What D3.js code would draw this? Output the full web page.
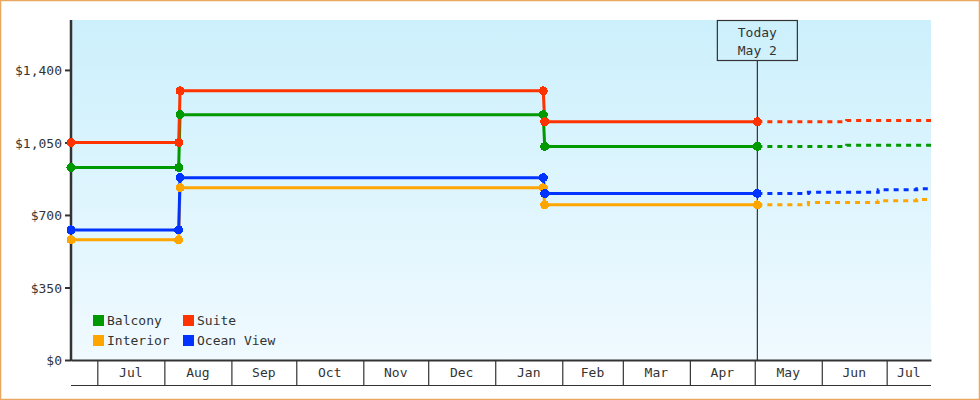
<!DOCTYPE html>
<html>
<head>
<meta charset="utf-8">
<script src="https://cdn.jsdelivr.net/npm/d3@7"></script>
<style>
  body { margin: 0; background: #fff; }
  svg text { font-family: 'DejaVu Sans Mono', monospace; font-size: 13px; fill: #333; }
  .mark { shape-rendering: crispEdges; }
</style>
</head>
<body>
<div class="visHolder"></div>
<script>
var width = 980,
  height = 400,
  margin = { top: 20, right: 49, bottom: 40, left: 71 };

// chart data
var seriesNames = ['Balcony', 'Suite', 'Interior', 'Ocean View'];
var seriesColors = ['#009900', '#ff3300', '#ffa500', '#0033ff'];
var legendOrder = ['Balcony', 'Suite', 'Interior', 'Ocean View'];

var histDates = ['2022-06-18T20', '2022-08-07T15', '2022-08-08T06', '2023-01-23T05', '2023-01-23T21', '2023-05-02T05'];
var balconyHist = [929, 929, 1184, 1184, 1031, 1031];
var suiteHist = [1050, 1050, 1299, 1299, 1150, 1150];
var interiorHist = [580, 580, 831, 831, 749, 749];
var oceanHist = [628, 628, 880, 880, 804, 804];

var balconyFcDates = ['2023-05-02T05', '2023-06-12T12', '2023-07-22T00'];
var balconyFc = [1031, 1037, 1037];
var suiteFcDates = ['2023-05-02T05', '2023-06-12T12', '2023-07-22T00'];
var suiteFc = [1150, 1156, 1156];
var interiorFcDates = ['2023-05-02T05', '2023-05-25T19', '2023-06-27T02', '2023-07-14T22', '2023-07-22T00'];
var interiorFc = [749, 760, 769, 775, 775];
var oceanFcDates = ['2023-05-02T05', '2023-05-25T19', '2023-06-27T02', '2023-07-14T22', '2023-07-22T00'];
var oceanFc = [804, 810, 822, 826, 826];

var todayDate = '2023-05-02T05';
var todayLabel = ['Today', 'May 2'];
var yTicks = [0, 350, 700, 1050, 1400];
var xStart = '2022-06-18T20',
  xEnd = '2023-07-21T12',
  yMax = 1641;

var parse = d3.utcParse('%Y-%m-%dT%H');

var hist = [balconyHist, suiteHist, interiorHist, oceanHist];
var fcDates = [balconyFcDates, suiteFcDates, interiorFcDates, oceanFcDates];
var fcVals = [balconyFc, suiteFc, interiorFc, oceanFc];

var plotW = width - margin.left - margin.right,
  plotH = height - margin.top - margin.bottom;

var svg = d3
  .select('.visHolder')
  .append('svg')
  .attr('width', width)
  .attr('height', height);

var defs = svg.append('defs');
var grad = defs
  .append('linearGradient')
  .attr('id', 'bg')
  .attr('x1', 0)
  .attr('y1', 0)
  .attr('x2', 0)
  .attr('y2', 1);
grad.append('stop').attr('offset', '0%').attr('stop-color', '#ccf0fc');
grad.append('stop').attr('offset', '100%').attr('stop-color', '#f0faff');

defs
  .append('clipPath')
  .attr('id', 'plotClip')
  .append('rect')
  .attr('x', -6)
  .attr('y', 0)
  .attr('width', plotW + 6)
  .attr('height', plotH);

// outer border
svg
  .append('rect')
  .attr('x', 0.5)
  .attr('y', 0.5)
  .attr('width', width - 1)
  .attr('height', height - 1)
  .style('fill', '#fff')
  .style('stroke', '#e8a85f')
  .style('stroke-width', 1.5);

var g = svg.append('g').attr('transform', 'translate(' + margin.left + ',' + margin.top + ')');

g.append('rect').attr('width', plotW).attr('height', plotH).style('fill', 'url(#bg)');

var xScale = d3.scaleUtc().domain([parse(xStart), parse(xEnd)]).range([0, plotW]);
var yScale = d3.scaleLinear().domain([0, yMax]).range([plotH, 0]);

// x axis: month cells
var months = d3.utcMonth.range(d3.utcMonth.ceil(parse(xStart)), parse(xEnd));
var xAxis = d3.axisBottom(xScale).tickValues(months).tickSize(25).tickSizeOuter(0).tickFormat('');
var xg = g.append('g').attr('transform', 'translate(0,' + plotH + ')').call(xAxis);
xg.select('.domain').style('stroke', '#333').style('stroke-width', 2);
xg.selectAll('.tick line').style('stroke', '#333').style('stroke-width', 1.2);

g.append('line')
  .attr('x1', 0)
  .attr('x2', plotW)
  .attr('y1', plotH + 25.5)
  .attr('y2', plotH + 25.5)
  .style('stroke', '#333')
  .style('stroke-width', 1.2);

var bounds = [parse(xStart)].concat(months).concat([parse(xEnd)]);
var cells = d3.pairs(bounds).filter(function (p) {
  return xScale(p[1]) - xScale(p[0]) > 32;
});
g.selectAll('.mlabel')
  .data(cells)
  .enter()
  .append('text')
  .attr('class', 'mlabel')
  .attr('x', function (d) {
    return (xScale(d[0]) + xScale(d[1])) / 2;
  })
  .attr('y', plotH + 17)
  .attr('text-anchor', 'middle')
  .text(function (d) {
    return d3.utcFormat('%b')(d3.utcMonth.floor(d[0]));
  });

// y axis
var yAxis = d3.axisLeft(yScale).tickValues(yTicks).tickSize(6).tickSizeOuter(0).tickFormat(d3.format('$,'));
var yg = g.append('g').call(yAxis);
yg.select('.domain').attr('d', 'M0,0V' + (plotH + 1)).style('stroke', '#333').style('stroke-width', 2.5);
yg.selectAll('.tick line').style('stroke', '#333').style('stroke-width', 2);
yg.selectAll('.tick text').attr('x', -9).attr('dy', '0.35em');

// today marker
var tx = xScale(parse(todayDate));
g.append('line')
  .attr('x1', tx)
  .attr('x2', tx)
  .attr('y1', 40)
  .attr('y2', plotH)
  .style('stroke', '#333')
  .style('stroke-width', 1.2);
g.append('rect')
  .attr('x', tx - 40)
  .attr('y', 0.5)
  .attr('width', 80)
  .attr('height', 40)
  .style('fill', 'none')
  .style('stroke', '#333')
  .style('stroke-width', 1.2);
g.selectAll('.today')
  .data(todayLabel)
  .enter()
  .append('text')
  .attr('x', tx)
  .attr('y', function (d, i) {
    return 17 + i * 18;
  })
  .attr('text-anchor', 'middle')
  .text(function (d) {
    return d;
  });

// series
var plot = g.append('g').attr('clip-path', 'url(#plotClip)');

var histLine = d3
  .line()
  .x(function (d) {
    return xScale(d.date);
  })
  .y(function (d) {
    return yScale(d.value);
  });

var fcLine = d3
  .line()
  .curve(d3.curveStepAfter)
  .x(function (d) {
    return xScale(d.date);
  })
  .y(function (d) {
    return yScale(d.value);
  });

seriesNames.forEach(function (name, s) {
  var pts = histDates.map(function (d, i) {
    return { date: parse(d), value: hist[s][i] };
  });
  var fpts = fcDates[s].map(function (d, i) {
    return { date: parse(d), value: fcVals[s][i] };
  });

  plot
    .append('path')
    .datum(fpts)
    .attr('d', fcLine)
    .style('fill', 'none')
    .style('stroke', seriesColors[s])
    .style('stroke-width', 3)
    .style('stroke-dasharray', '5,5');

  plot
    .append('path')
    .datum(pts)
    .attr('d', histLine)
    .style('fill', 'none')
    .style('stroke', seriesColors[s])
    .style('stroke-width', 3);

  g.selectAll('.pt' + s)
    .data(pts)
    .enter()
    .append('circle')
    .attr('class', 'mark')
    .attr('cx', function (d) {
      return xScale(d.date);
    })
    .attr('cy', function (d) {
      return yScale(d.value);
    })
    .attr('r', 4.5)
    .style('fill', seriesColors[s]);
});

// legend
var legend = g
  .selectAll('.legend')
  .data(legendOrder)
  .enter()
  .append('g')
  .attr('transform', function (d, i) {
    return 'translate(' + (22 + (i % 2) * 90) + ',' + (295 + Math.floor(i / 2) * 20) + ')';
  });
legend
  .append('rect')
  .attr('width', 11)
  .attr('height', 11)
  .style('fill', function (d) {
    return seriesColors[seriesNames.indexOf(d)];
  });
legend
  .append('text')
  .attr('x', 14)
  .attr('y', 10)
  .text(function (d) {
    return d;
  });
</script>
</body>
</html>
